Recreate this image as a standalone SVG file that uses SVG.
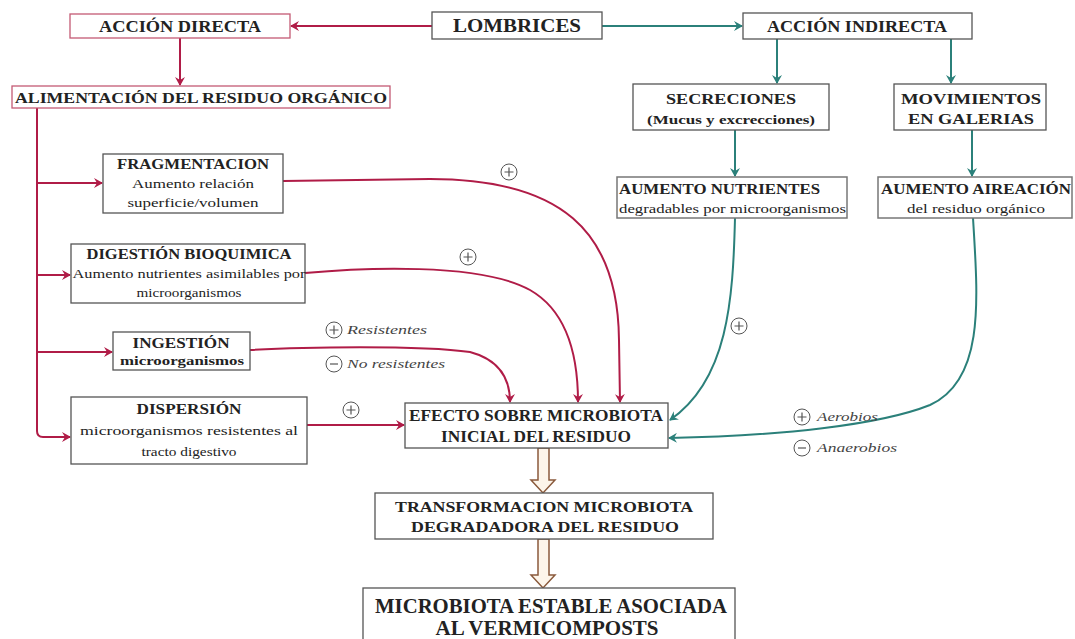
<svg xmlns="http://www.w3.org/2000/svg" xmlns:xlink="http://www.w3.org/1999/xlink" width="1075" height="639" viewBox="0 0 1075 639">
<style>
.box{fill:#fff;stroke:#555;stroke-width:1.3}
.pbox{fill:#fff;stroke:#c45a74;stroke-width:1.3}
.gbox{fill:#fff;stroke:#777;stroke-width:1.5}
text{font-family:"Liberation Serif","Times New Roman",serif;fill:#222}
.b{font-weight:bold}
.c{text-anchor:middle}
.it{font-style:italic;font-size:12px;fill:#444}
.red{fill:none;stroke:#b01c47;stroke-width:2;marker-end:url(#ar)}
.red0{fill:none;stroke:#b01c47;stroke-width:2}
.teal{fill:none;stroke:#2b807a;stroke-width:2;marker-end:url(#at)}
.blk{fill:#fdf5ea;stroke:#8a5a3c;stroke-width:1.5}
.sym circle{fill:#fff;stroke:#555;stroke-width:1}
.sym path{stroke:#555;stroke-width:1.2}
</style>
<defs>
<marker id="ar" markerWidth="10" markerHeight="10" refX="8" refY="5" orient="auto" markerUnits="userSpaceOnUse">
<path d="M0,0 L9,5 L0,10 L3,5 Z" fill="#b01c47"/>
</marker>
<marker id="at" markerWidth="10" markerHeight="10" refX="8" refY="5" orient="auto" markerUnits="userSpaceOnUse">
<path d="M0,0 L9,5 L0,10 L3,5 Z" fill="#2b807a"/>
</marker>
<g id="plus" class="sym"><circle r="8"/><path d="M-4.5,0 H4.5 M0,-4.5 V4.5"/></g>
<g id="minus" class="sym"><circle r="8"/><path d="M-4,0 H4"/></g>
</defs>

<g id="connectors">
<path class="red" d="M432,26 L291,26"/>
<path class="teal" d="M602,26 L742,26"/>
<path class="red" d="M180,38 L180,85"/>
<path class="teal" d="M777,39 L777,83"/>
<path class="teal" d="M951,39 L951,83"/>
<path class="teal" d="M735,130 L735,176"/>
<path class="teal" d="M972,130 L972,176"/>
<path class="red0" d="M37,108 L37,431 Q37,437 43,437 L50,437"/>
<path class="red" d="M43,437 L70,437"/>
<path class="red" d="M37,183 L102,183"/>
<path class="red" d="M37,275 L70,275"/>
<path class="red" d="M37,352 L112,352"/>
<path class="red" d="M283,181 L430,179 C560,179 618,230 619,340 L620,402"/>
<path class="red" d="M305,273 C360,268 480,262 530,290 C565,310 578,350 578,402"/>
<path class="red" d="M250,350 C300,347 420,345 470,352 C500,360 510,380 510,402"/>
<path class="red" d="M307,425 L404,425"/>
<path class="teal" d="M735,218 C733,300 728,380 670,420"/>
<path class="teal" d="M973,218 C978,300 985,380 930,405 C880,425 780,436 669,438"/>
<path class="blk" d="M538,448 L549,448 L549,480 L555,480 L543,493 L531,480 L538,480 Z"/>
<path class="blk" d="M538,539 L549,539 L549,575 L555,575 L543,588 L531,575 L538,575 Z"/>
<use xlink:href="#plus" href="#plus" x="509" y="172"/>
<use xlink:href="#plus" href="#plus" x="468" y="257"/>
<use xlink:href="#plus" href="#plus" x="334" y="330"/>
<text class="it" x="347" y="334" textLength="80" lengthAdjust="spacingAndGlyphs">Resistentes</text>
<use xlink:href="#minus" href="#minus" x="334" y="364"/>
<text class="it" x="347" y="368" textLength="98" lengthAdjust="spacingAndGlyphs">No resistentes</text>
<use xlink:href="#plus" href="#plus" x="351" y="410"/>
<use xlink:href="#plus" href="#plus" x="739" y="326"/>
<use xlink:href="#plus" href="#plus" x="802" y="417"/>
<text class="it" x="817" y="421" textLength="61" lengthAdjust="spacingAndGlyphs">Aerobios</text>
<use xlink:href="#minus" href="#minus" x="802" y="448"/>
<text class="it" x="817" y="452" textLength="80" lengthAdjust="spacingAndGlyphs">Anaerobios</text>
</g>

<g id="accion-directa">
<rect class="pbox" x="70" y="14" width="220" height="24"/>
<text class="b c" x="180" y="32" font-size="16" textLength="162" lengthAdjust="spacingAndGlyphs">ACCIÓN DIRECTA</text>
</g>
<g id="lombrices">
<rect class="box" x="432" y="12" width="170" height="27"/>
<text class="b c" x="517" y="32" font-size="19" textLength="128" lengthAdjust="spacingAndGlyphs">LOMBRICES</text>
</g>
<g id="accion-indirecta">
<rect class="box" x="743" y="13" width="229" height="26"/>
<text class="b c" x="857" y="32" font-size="16" textLength="180" lengthAdjust="spacingAndGlyphs">ACCIÓN INDIRECTA</text>
</g>
<g id="alimentacion">
<rect class="pbox" x="12" y="86" width="378" height="22"/>
<text class="b c" x="201" y="103" font-size="15" textLength="372" lengthAdjust="spacingAndGlyphs">ALIMENTACIÓN DEL RESIDUO ORGÁNICO</text>
</g>
<g id="secreciones">
<rect class="box" x="633" y="84" width="196" height="46"/>
<text class="b c" x="731" y="104" font-size="15" textLength="130" lengthAdjust="spacingAndGlyphs">SECRECIONES</text>
<text class="b c" x="731" y="124" font-size="13" textLength="168" lengthAdjust="spacingAndGlyphs">(Mucus y excrecciones)</text>
</g>
<g id="movimientos">
<rect class="box" x="894" y="84" width="152" height="46"/>
<text class="b c" x="971" y="104" font-size="15" textLength="140" lengthAdjust="spacingAndGlyphs">MOVIMIENTOS</text>
<text class="b c" x="971" y="124" font-size="15" textLength="126" lengthAdjust="spacingAndGlyphs">EN GALERIAS</text>
</g>
<g id="aumento-nutrientes">
<rect class="gbox" x="617" y="177" width="230" height="41"/>
<text class="b" x="619" y="194" font-size="15" textLength="201" lengthAdjust="spacingAndGlyphs">AUMENTO NUTRIENTES</text>
<text x="619" y="213" font-size="13" textLength="227" lengthAdjust="spacingAndGlyphs">degradables por  microorganismos</text>
</g>
<g id="aumento-aireacion">
<rect class="gbox" x="878" y="177" width="194" height="41"/>
<text class="b c" x="976" y="194" font-size="15" textLength="190" lengthAdjust="spacingAndGlyphs">AUMENTO AIREACIÓN</text>
<text class="c" x="976" y="213" font-size="13" textLength="138" lengthAdjust="spacingAndGlyphs">del residuo orgánico</text>
</g>
<g id="fragmentacion">
<rect class="box" x="103" y="154" width="180" height="59"/>
<text class="b c" x="193" y="169" font-size="14" textLength="152" lengthAdjust="spacingAndGlyphs">FRAGMENTACION</text>
<text class="c" x="193" y="188" font-size="13" textLength="122" lengthAdjust="spacingAndGlyphs">Aumento relación</text>
<text class="c" x="193" y="207" font-size="13" textLength="131" lengthAdjust="spacingAndGlyphs">superficie/volumen</text>
</g>
<g id="digestion">
<rect class="box" x="71" y="244" width="234" height="59"/>
<text class="b c" x="189" y="259" font-size="14" textLength="205" lengthAdjust="spacingAndGlyphs">DIGESTIÓN BIOQUIMICA</text>
<text class="c" x="189" y="278" font-size="13" textLength="233" lengthAdjust="spacingAndGlyphs">Aumento nutrientes asimilables por</text>
<text class="c" x="189" y="297" font-size="13" textLength="105" lengthAdjust="spacingAndGlyphs">microorganismos</text>
</g>
<g id="ingestion">
<rect class="box" x="113" y="332" width="137" height="38"/>
<text class="b c" x="181" y="348" font-size="14" textLength="97" lengthAdjust="spacingAndGlyphs">INGESTIÓN</text>
<text class="b c" x="182" y="365" font-size="13" textLength="124" lengthAdjust="spacingAndGlyphs">microorganismos</text>
</g>
<g id="dispersion">
<rect class="box" x="71" y="397" width="236" height="67"/>
<text class="b c" x="189" y="414" font-size="15" textLength="105" lengthAdjust="spacingAndGlyphs">DISPERSIÓN</text>
<text class="c" x="189" y="435" font-size="13" textLength="218" lengthAdjust="spacingAndGlyphs">microorganismos  resistentes al</text>
<text class="c" x="189" y="456" font-size="13" textLength="95" lengthAdjust="spacingAndGlyphs">tracto digestivo</text>
</g>
<g id="efecto">
<rect class="box" x="405" y="403" width="263" height="45"/>
<text class="b c" x="536" y="421" font-size="16" textLength="254" lengthAdjust="spacingAndGlyphs">EFECTO SOBRE MICROBIOTA</text>
<text class="b c" x="536" y="442" font-size="16" textLength="190" lengthAdjust="spacingAndGlyphs">INICIAL DEL RESIDUO</text>
</g>
<g id="transformacion">
<rect class="box" x="375" y="493" width="338" height="46"/>
<text class="b c" x="544" y="512" font-size="15" textLength="298" lengthAdjust="spacingAndGlyphs">TRANSFORMACION MICROBIOTA</text>
<text class="b c" x="545" y="532" font-size="15" textLength="268" lengthAdjust="spacingAndGlyphs">DEGRADADORA DEL RESIDUO</text>
</g>
<g id="microbiota-estable">
<rect class="box" x="363" y="588" width="372" height="60"/>
<text class="b c" x="551" y="613" font-size="20" textLength="352" lengthAdjust="spacingAndGlyphs">MICROBIOTA ESTABLE ASOCIADA</text>
<text class="b c" x="547" y="635" font-size="20" textLength="223" lengthAdjust="spacingAndGlyphs">AL VERMICOMPOSTS</text>
</g>
</svg>
